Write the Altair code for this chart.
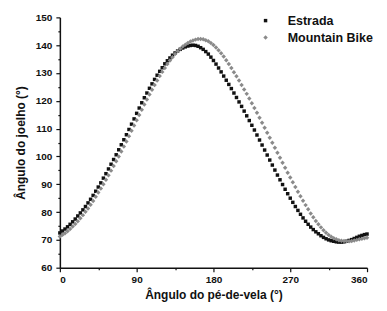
import altair as alt
import pandas as pd

crank_angle = [0, 3, 6, 9, 12, 15, 18, 21, 24, 27, 30, 33, 36, 39, 42, 45,
               48, 51, 54, 57, 60, 63, 66, 69, 72, 75, 78, 81, 84, 87, 90,
               93, 96, 99, 102, 105, 108, 111, 114, 117, 120,
               123, 126, 129, 132, 135, 138, 141, 144, 147, 150, 153, 156,
               159, 162, 165, 168, 171, 174, 177, 180,
               183, 186, 189, 192, 195, 198, 201, 204, 207, 210,
               213, 216, 219, 222, 225, 228, 231, 234, 237, 240,
               243, 246, 249, 252, 255, 258, 261, 264, 267, 270,
               273, 276, 279, 282, 285, 288, 291, 294, 297, 300,
               303, 306, 309, 312, 315, 318, 321, 324, 327, 330,
               333, 336, 339, 342, 345, 348, 351, 354, 357, 360]

estrada = [72.5, 73.2, 73.9, 74.7, 75.6, 76.5, 77.5, 78.6, 79.7, 80.8, 82.0, 83.3, 84.6, 86.0, 87.5, 89.0,
           90.5, 92.2, 93.8, 95.5, 97.2, 98.9, 100.6, 102.4, 104.2, 106.0, 107.8, 109.7, 111.6, 113.5, 115.5,
           117.4, 119.3, 121.1, 122.8, 124.5, 126.1, 127.7, 129.2, 130.6, 131.9,
           133.3, 134.4, 135.4, 136.4, 137.2, 137.9, 138.5, 139.0, 139.4, 139.7, 139.9, 140.0,
           139.9, 139.6, 139.1, 138.5, 137.7, 136.8, 135.7, 134.5,
           133.2, 131.8, 130.4, 128.9, 127.4, 125.9, 124.4, 122.8, 121.2, 119.6,
           118.0, 116.3, 114.6, 112.9, 111.2, 109.5, 107.7, 105.9, 104.1, 102.3,
           100.5, 98.7, 96.9, 95.1, 93.3, 91.6, 89.9, 88.2, 86.6, 85.0,
           83.5, 82.0, 80.6, 79.2, 77.9, 76.7, 75.6, 74.6, 73.7, 72.9,
           72.2, 71.5, 70.9, 70.4, 70.0, 69.7, 69.5, 69.3, 69.2, 69.2,
           69.3, 69.5, 69.8, 70.1, 70.5, 70.9, 71.3, 71.6, 71.9, 72.1]

mountain_bike = [71.2, 71.8, 72.4, 73.1, 73.9, 74.8, 75.7, 76.7, 77.8, 78.9, 80.1, 81.3, 82.6, 84.0, 85.5, 87.0,
                 88.5, 90.0, 91.6, 93.2, 94.9, 96.6, 98.3, 100.0, 101.8, 103.6, 105.4, 107.3, 109.2, 111.1, 113.0,
                 114.9, 116.8, 118.7, 120.5, 122.3, 124.0, 125.7, 127.3, 128.9, 130.4,
                 131.8, 133.2, 134.5, 135.7, 136.8, 137.8, 138.7, 139.5, 140.2, 140.8,
                 141.3, 141.7, 142.0, 142.2, 142.2, 142.1, 141.8, 141.4, 140.8, 140.1,
                 139.2, 138.2, 137.1, 135.9, 134.6, 133.2, 131.8, 130.3, 128.8, 127.3,
                 125.7, 124.1, 122.5, 120.8, 119.1, 117.4, 115.7, 113.9, 112.1, 110.3,
                 108.5, 106.7, 104.9, 103.1, 101.3, 99.5, 97.7, 95.9, 94.1, 92.4,
                 90.7, 89.0, 87.3, 85.7, 84.1, 82.5, 81.0, 79.5, 78.1, 76.8,
                 75.6, 74.5, 73.5, 72.6, 71.8, 71.1, 70.6, 70.2, 69.9, 69.7,
                 69.6, 69.5, 69.5, 69.6, 69.8, 70.0, 70.2, 70.4, 70.6, 70.8]

series_names = ["Estrada", "Mountain Bike"]
series_colors = ["#111111", "#8a8a8a"]
series_shapes = ["square", "diamond"]
series_sizes = [12, 20]

x_major = [0, 90, 180, 270, 360]
x_minor = [45, 135, 225, 315]
y_major = [60, 70, 80, 90, 100, 110, 120, 130, 140, 150]
y_minor = [65, 75, 85, 95, 105, 115, 125, 135, 145]

df = pd.DataFrame({
    "angle": crank_angle * 2,
    "knee": estrada + mountain_bike,
    "series": [series_names[0]] * len(crank_angle) + [series_names[1]] * len(crank_angle),
    "order": [0] * len(crank_angle) + [1] * len(crank_angle),
})

FONT = "Liberation Sans"
xscale = alt.Scale(domain=[0, 360], nice=False, zero=False)
yscale = alt.Scale(domain=[60, 150], nice=False, zero=False)

legend = alt.Legend(title=None, orient="none", legendX=200, legendY=-3,
                    symbolSize=24, labelFontSize=12.5, labelFont=FONT,
                    labelFontWeight="bold", labelColor="#111",
                    labelOffset=16, rowPadding=4, padding=0, labelLimit=200)

main = alt.Chart(df).mark_point(filled=True, opacity=1).encode(
    x=alt.X("angle:Q", scale=xscale,
            axis=alt.Axis(values=x_major, title="Ângulo do pé-de-vela (°)", grid=False,
                          tickSize=4, labelPadding=3, titlePadding=5, orient="bottom")),
    y=alt.Y("knee:Q", scale=yscale,
            axis=alt.Axis(values=y_major, title="Ângulo do joelho (°)", grid=False,
                          tickSize=4, labelPadding=4, titlePadding=8, orient="left")),
    color=alt.Color("series:N", scale=alt.Scale(domain=series_names, range=series_colors),
                    legend=legend),
    shape=alt.Shape("series:N", scale=alt.Scale(domain=series_names, range=series_shapes),
                    legend=legend),
    size=alt.Size("series:N", scale=alt.Scale(domain=series_names, range=series_sizes),
                  legend=None),
    order=alt.Order("order:Q"),
)

minor = alt.Chart(df).mark_point(opacity=0).encode(
    x=alt.X("angle:Q", scale=xscale,
            axis=alt.Axis(values=x_minor, title=None, labels=False, domain=False, grid=False,
                          tickSize=2, orient="bottom")),
    y=alt.Y("knee:Q", scale=yscale,
            axis=alt.Axis(values=y_minor, title=None, labels=False, domain=False, grid=False,
                          tickSize=2, orient="left")),
)

chart = alt.layer(main, minor).resolve_axis(x="independent", y="independent").properties(
    width=308, height=251,
    autosize=alt.AutoSizeParams(type="none"),
    padding={"left": 52, "top": 9, "right": 12, "bottom": 35},
).configure_axis(
    domainColor="#111", domainWidth=1.5, tickColor="#111", tickWidth=1.2,
    labelFont=FONT, labelFontWeight="bold", labelFontSize=10, labelColor="#111",
    titleFont=FONT, titleFontWeight="bold", titleFontSize=12, titleColor="#111",
).configure_view(stroke=None)

chart.save("out.html", embed_options={"renderer": "svg", "actions": False})
